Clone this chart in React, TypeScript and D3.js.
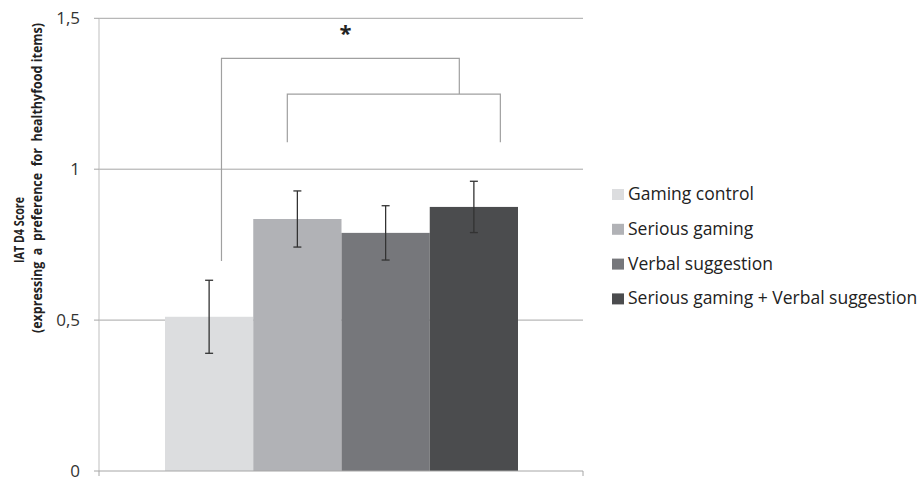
import React from "react";
import * as d3 from "d3";

const groups = ["Gaming control", "Serious gaming", "Verbal suggestion", "Serious gaming + Verbal suggestion"];
const means = [0.511, 0.835, 0.789, 0.875];
const errors = [0.121, 0.093, 0.09, 0.085];
const colors = ["#dcdddf", "#b1b2b6", "#76777b", "#4b4c4e"];
const yTicks = [0, 0.5, 1, 1.5];
const yTickLabels = ["0", "0,5", "1", "1,5"];
// significance brackets: [x start, x end] in category units, top value, left leg bottom, right leg bottom
const bracketX1 = [0.64, 1.386];
const bracketX2 = [3.335, 3.8];
const bracketTop = [1.367, 1.249];
const bracketLeftBottom = [0.696, 1.089];
const bracketRightBottom = [1.249, 1.089];
const starPos = 2.045;
const starValue = 1.466;

const W = 924;
const H = 478;
const plotLeft = 99;
const plotRight = 583;
const y0 = 471;
const y1 = 18.3;
const barsLeft = 165;
const barsRight = 518;

export default function App() {
  const y = d3.scaleLinear().domain([0, 1.5]).range([y0, y1]);
  const xb = d3.scaleBand().domain(groups).range([barsLeft, barsRight]).padding(0);
  const xc = d3.scaleLinear().domain([0, groups.length]).range([barsLeft, barsRight]);
  const font = "'Open Sans', sans-serif";

  return (
    <svg width={W} height={H} style={{ position: "absolute", left: 0, top: 0, background: "#fff" }}>
      {/* gridlines */}
      {yTicks.map((t, i) =>
        t > 0 ? (
          <line key={"g" + i} x1={plotLeft} x2={plotRight} y1={y(t)} y2={y(t)} stroke="#a6a6a6" strokeWidth={1} />
        ) : null
      )}
      {/* bars */}
      {groups.map((g, i) => (
        <rect key={g} x={xb(g)} y={y(means[i])} width={xb.bandwidth()} height={y(0) - y(means[i])} fill={colors[i]} />
      ))}
      {/* error bars */}
      {groups.map((g, i) => {
        const cx = (xb(g) as number) + xb.bandwidth() / 2;
        const top = y(means[i] + errors[i]);
        const bot = y(means[i] - errors[i]);
        return (
          <g key={"e" + i} stroke="#333" strokeWidth={1.3}>
            <line x1={cx} x2={cx} y1={top} y2={bot} />
            <line x1={cx - 4} x2={cx + 4} y1={top} y2={top} />
            <line x1={cx - 4} x2={cx + 4} y1={bot} y2={bot} />
          </g>
        );
      })}
      {/* axes */}
      <line x1={plotLeft} x2={plotLeft} y1={y1} y2={y0} stroke="#bfbfbf" strokeWidth={1} />
      <line x1={plotLeft} x2={plotRight} y1={y0} y2={y0} stroke="#a6a6a6" strokeWidth={1} />
      <line x1={plotLeft} x2={plotLeft} y1={y0} y2={y0 + 5} stroke="#a6a6a6" strokeWidth={1} />
      <line x1={plotRight} x2={plotRight} y1={y0} y2={y0 + 5} stroke="#a6a6a6" strokeWidth={1} />
      {yTicks.map((t, i) => (
        <g key={"t" + i}>
          <line x1={plotLeft - 5} x2={plotLeft} y1={y(t)} y2={y(t)} stroke="#a6a6a6" strokeWidth={1} />
          <text x={80} y={y(t)} dy="0.36em" textAnchor="end" fontFamily={font} fontSize={17} fill="#333">
            {yTickLabels[i]}
          </text>
        </g>
      ))}
      {/* y-axis title */}
      <text transform={`translate(24,230) rotate(-90)`} textAnchor="middle" fontFamily={font} fontWeight="bold" fontSize={14} textLength={66} lengthAdjust="spacingAndGlyphs" fill="#222">
        IAT D4 Score
      </text>
      <text transform={`translate(42,178) rotate(-90)`} textAnchor="middle" fontFamily={font} fontWeight="bold" fontSize={14} textLength={310} lengthAdjust="spacingAndGlyphs" fill="#222" style={{ whiteSpace: "pre" }}>
        {"(expressing  a  preference  for  healthyfood items)"}
      </text>
      {/* brackets */}
      {bracketTop.map((bt, i) => (
        <path
          key={"b" + i}
          d={`M${xc(bracketX1[i])},${y(bracketLeftBottom[i])}V${y(bt)}H${xc(bracketX2[i])}V${y(bracketRightBottom[i])}`}
          fill="none"
          stroke="#a0a0a0"
          strokeWidth={1.2}
        />
      ))}
      <text x={xc(starPos)} y={y(starValue)} dy="0.56em" textAnchor="middle" fontFamily={font} fontWeight="bold" fontSize={22} fill="#222">
        *
      </text>
      {/* legend */}
      {groups.map((g, i) => {
        const base = 200 + i * 34.8;
        return (
          <g key={"l" + i}>
            <rect x={612} y={base - 11} width={12} height={11} fill={colors[i]} />
            <text x={628} y={base} fontFamily={font} fontSize={17.5} fill="#222">
              {g}
            </text>
          </g>
        );
      })}
    </svg>
  );
}
